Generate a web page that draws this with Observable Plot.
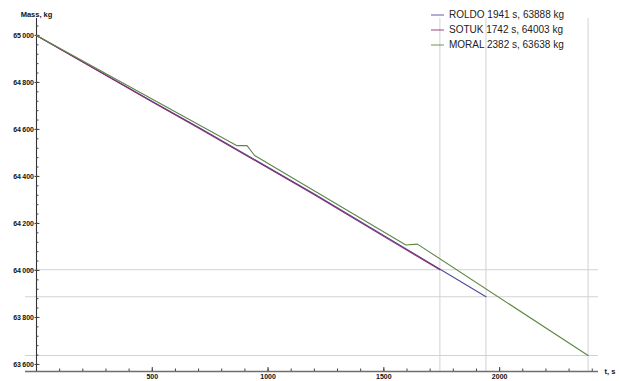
<!DOCTYPE html>
<html>
<head>
<meta charset="utf-8">
<script src="https://cdn.jsdelivr.net/npm/d3@7"></script>
<script src="https://cdn.jsdelivr.net/npm/@observablehq/plot@0.6"></script>
<style>
  body { margin: 0; background: #fff; }
  #chart { position: relative; width: 619px; height: 381px; font-family: "Liberation Sans", Arial, sans-serif; }
  #legend { position: absolute; left: 430px; top: 7px; font-size: 10px; color: #222; }
  #legend .row { display: flex; align-items: center; height: 15px; }
  #legend svg { margin-right: 5px; }
</style>
</head>
<body>
<div id="chart"><div id="legend"></div></div>
<script>
// Flight profiles: time since departure (s) and aircraft mass (kg)
const roldoT = [0, 491, 707, 1200, 1557, 1941];
const roldoM = [65000, 64724, 64605, 64325, 64115, 63888];

const sotukT = [0, 491, 707, 1200, 1557, 1742];
const sotukM = [65000, 64722, 64602, 64322, 64111, 64003];

const moralT = [0, 866, 909, 942, 1595, 1645, 2382];
const moralM = [65000, 64531, 64531, 64489, 64108, 64112, 63638];

const seriesNames = ["ROLDO", "SOTUK", "MORAL"];
const seriesColors = ["#4b4a9e", "#8c2f6c", "#5e8744"];
const endTimes = [1941, 1742, 2382];
const endMasses = [63888, 64003, 63638];

const xMajorTicks = [500, 1000, 1500, 2000];
const xMinorTicks = d3.range(100, 2401, 100);
const yMajorTicks = [63600, 63800, 64000, 64200, 64400, 64600, 64800, 65000];
const yMinorTicks = d3.range(63600, 65041, 40);

const rows = [];
[[roldoT, roldoM], [sotukT, sotukM], [moralT, moralM]].forEach(([T, M], s) => {
  T.forEach((t, i) => rows.push({series: seriesNames[s], t, m: M[i]}));
});

const W = 619, H = 381;
const mL = 36, mR = 21, mT = 18, mB = 10;
const frameW = W - mL - mR, frameH = H - mT - mB;
const yDomain = [63570, 65072];

const fmt = d3.formatLocale({decimal: ".", thousands: "\u2009", grouping: [3], currency: ["", ""]}).format(",");
const axisFont = {fontWeight: "bold", fontSize: 7};

const chart = Plot.plot({
  width: W,
  height: H,
  marginLeft: mL, marginRight: mR, marginTop: mT, marginBottom: mB,
  style: {fontFamily: "'Liberation Sans', Arial, sans-serif", fontSize: "7px", color: "#111", background: "#fff"},
  x: {domain: [0, 2427], axis: null},
  y: {domain: yDomain, axis: null},
  color: {domain: seriesNames, range: seriesColors},
  marks: [
    // reference lines at each end point
    Plot.ruleY(endMasses, {stroke: "#d2d2d2", strokeWidth: 1, insetLeft: -11}),
    Plot.ruleX(endTimes, {stroke: "#d2d2d2", strokeWidth: 1}),
    // axes lines
    Plot.ruleY([yDomain[0]], {stroke: "#6e6e6e", strokeWidth: 1.4, insetLeft: -11}),
    Plot.ruleX([0], {stroke: "#333", strokeWidth: 1.1}),
    // ticks pointing into the frame
    Plot.tickX(xMinorTicks, {x: d => d, stroke: "#444", insetTop: frameH - 2.5}),
    Plot.tickX(xMajorTicks, {x: d => d, stroke: "#444", insetTop: frameH - 4}),
    Plot.tickY(yMinorTicks, {y: d => d, stroke: "#444", insetRight: frameW - 2.5}),
    Plot.tickY(yMajorTicks, {y: d => d, stroke: "#444", insetRight: frameW - 3.5, insetLeft: -1.5}),
    Plot.axisX(xMajorTicks, {tickSize: 0, tickPadding: 3, label: null, tickFormat: d => String(d), ...axisFont}),
    Plot.axisY(yMajorTicks, {tickSize: 0, tickPadding: 2.5, label: null, tickFormat: fmt, ...axisFont}),
    Plot.text(["Mass, kg"], {frameAnchor: "top-left", dy: -7, textAnchor: "middle", fontWeight: "bold", fontSize: 7.5}),
    Plot.text(["t, s"], {frameAnchor: "bottom-right", dx: 6, textAnchor: "start", lineAnchor: "middle", fontWeight: "bold", fontSize: 7.5}),
    // mass profiles
    Plot.line(rows, {x: "t", y: "m", z: "series", stroke: "series", strokeWidth: 1.1}),
  ]
});
document.getElementById("chart").prepend(chart);

// legend overlaid in the top-right corner
const legend = d3.select("#legend");
seriesNames.forEach((name, i) => {
  const row = legend.append("div").attr("class", "row");
  const sw = row.append("svg").attr("width", 14).attr("height", 4);
  sw.append("line").attr("x1", 1).attr("x2", 14).attr("y1", 2).attr("y2", 2)
    .attr("stroke", seriesColors[i]).attr("stroke-opacity", 0.75).attr("stroke-width", 1.2);
  row.append("span").text(`${name} ${endTimes[i]} s, ${endMasses[i]} kg`);
});
</script>
</body>
</html>
